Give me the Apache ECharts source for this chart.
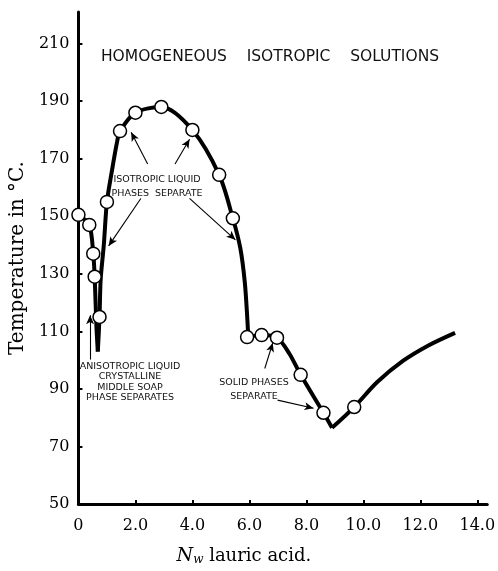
<!DOCTYPE html>
<html>
<head>
<meta charset="utf-8">
<script src="https://cdn.jsdelivr.net/npm/echarts@6/dist/echarts.min.js"></script>
<style>
  html, body { margin: 0; padding: 0; background: #fff; }
  #chart { width: 498px; height: 571px; }
</style>
</head>
<body>
<div id="chart"></div>
<script>
const xTicks = [0, 2, 4, 6, 8, 10, 12, 14];
const yTicks = [50, 70, 90, 110, 130, 150, 170, 190, 210];

// curve is split at the cusps so smoothing does not round them off
const branchLeft = [[0, 150.5], [0.38, 147], [0.52, 137], [0.57, 129], [0.63, 112], [0.68, 103]];
const branchDome = [[0.68, 103], [0.74, 115], [0.78, 128], [0.89, 140], [1.0, 155], [1.17, 165.5],
  [1.35, 175.5], [1.46, 179.6], [2.0, 186], [2.91, 188], [4.0, 180], [4.94, 164.4], [5.42, 149.3],
  [5.68, 139], [5.84, 127], [5.93, 114], [5.96, 108]];
const branchSolid = [[5.96, 108], [6.43, 108.7], [6.97, 107.8], [7.4, 102.3], [7.8, 94.9], [8.6, 81.7], [8.9, 76.5]];
const branchRight = [[8.9, 76.5], [9.68, 83.7], [10.48, 92.3], [11.4, 99.8], [12.3, 105.2], [13.22, 109.5]];

// open circles = measured points
const measured = [[0, 150.5], [0.38, 147], [0.52, 137], [0.57, 129], [0.74, 115], [1.0, 155],
  [1.46, 179.6], [2.0, 186], [2.91, 188], [4.0, 180], [4.94, 164.4], [5.42, 149.3], [5.92, 108],
  [6.43, 108.7], [6.97, 107.8], [7.8, 94.9], [8.6, 81.7], [9.68, 83.7]];

// annotation arrows, [from, to] in data units
const arrows = [
  [[2.43, 168.2], [1.85, 179.2]],
  [[3.39, 168.2], [3.9, 176.8]],
  [[2.19, 156.2], [1.06, 139.7]],
  [[3.9, 156.2], [5.51, 141.8]],
  [[0.41, 100.2], [0.41, 115.6]],
  [[6.54, 97.1], [6.82, 106]],
  [[6.99, 86.1], [8.25, 83.3]]
];

const serif = "'DejaVu Serif', serif";
const letter = "'DejaVu Sans', sans-serif";

const chart = echarts.init(document.getElementById("chart"));

function curve(data) {
  return {
    type: "line",
    data: data,
    smooth: 0.3,
    symbol: "none",
    silent: true,
    lineStyle: { color: "#000", width: 4 },
    z: 2,
  };
}

const option = {
  animation: false,
  grid: { left: 74, right: 6, top: 12, bottom: 62 },
  xAxis: {
    type: "value",
    min: 0,
    max: 14.35,
    splitLine: { show: false },
    axisLine: { lineStyle: { color: "#000", width: 3 } },
    axisTick: { inside: true, length: 4, lineStyle: { color: "#000", width: 2 }, customValues: xTicks },
    axisLabel: {
      customValues: xTicks,
      color: "#000",
      fontFamily: serif,
      fontSize: 16,
      margin: 14,
      formatter: (v) => (v === 0 ? "0" : v.toFixed(1)),
    },
    name: "{i|N}{s|w} lauric acid.",
    nameLocation: "middle",
    nameGap: 42,
    nameTextStyle: {
      color: "#000",
      fontFamily: serif,
      fontSize: 18,
      padding: [0, 78, 0, 0],
      rich: {
        i: { fontFamily: serif, fontStyle: "italic", fontSize: 19, color: "#000" },
        s: { fontFamily: serif, fontStyle: "italic", fontSize: 12, color: "#000", verticalAlign: "bottom", padding: [8, 0, 0, 0] },
      },
    },
  },
  yAxis: {
    type: "value",
    min: 50,
    max: 221,
    splitLine: { show: false },
    axisLine: { lineStyle: { color: "#000", width: 3 } },
    axisTick: { inside: true, length: 4, lineStyle: { color: "#000", width: 2 }, customValues: yTicks },
    axisLabel: {
      customValues: yTicks,
      color: "#000",
      fontFamily: serif,
      fontSize: 16,
      margin: 9,
    },
    name: "Temperature in °C.",
    nameLocation: "middle",
    nameGap: 44,
    nameTextStyle: { color: "#000", fontFamily: serif, fontSize: 20 },
  },
  series: [
    curve(branchLeft),
    curve(branchDome),
    curve(branchSolid),
    curve(branchRight),
    {
      type: "scatter",
      data: measured,
      symbol: "circle",
      symbolSize: 13,
      silent: true,
      itemStyle: { color: "#fff", borderColor: "#000", borderWidth: 1.5, opacity: 1 },
      z: 5,
      markLine: {
        silent: true,
        symbol: ["none", "arrow"],
        symbolSize: [6, 9],
        label: { show: false },
        lineStyle: { color: "#000", width: 1.1, type: "solid" },
        data: arrows.map(([a, b]) => [{ coord: a }, { coord: b }]),
      },
    },
  ],
  graphic: [
    {
      type: "text", x: 270, y: 57,
      style: { text: "HOMOGENEOUS    ISOTROPIC    SOLUTIONS", font: "15.5px " + letter, fill: "#111", align: "center", verticalAlign: "middle" },
    },
    {
      type: "text", x: 157, y: 187,
      style: { text: "ISOTROPIC LIQUID\nPHASES  SEPARATE", font: "9.5px " + letter, fill: "#111", align: "center", verticalAlign: "middle", lineHeight: 14 },
    },
    {
      type: "text", x: 130, y: 382,
      style: { text: "ANISOTROPIC LIQUID\nCRYSTALLINE\nMIDDLE SOAP\nPHASE SEPARATES", font: "9.5px " + letter, fill: "#111", align: "center", verticalAlign: "middle", lineHeight: 10.5 },
    },
    {
      type: "text", x: 254, y: 390,
      style: { text: "SOLID PHASES\nSEPARATE", font: "9.5px " + letter, fill: "#111", align: "center", verticalAlign: "middle", lineHeight: 14 },
    },
  ],
};

chart.setOption(option);
</script>
</body>
</html>
